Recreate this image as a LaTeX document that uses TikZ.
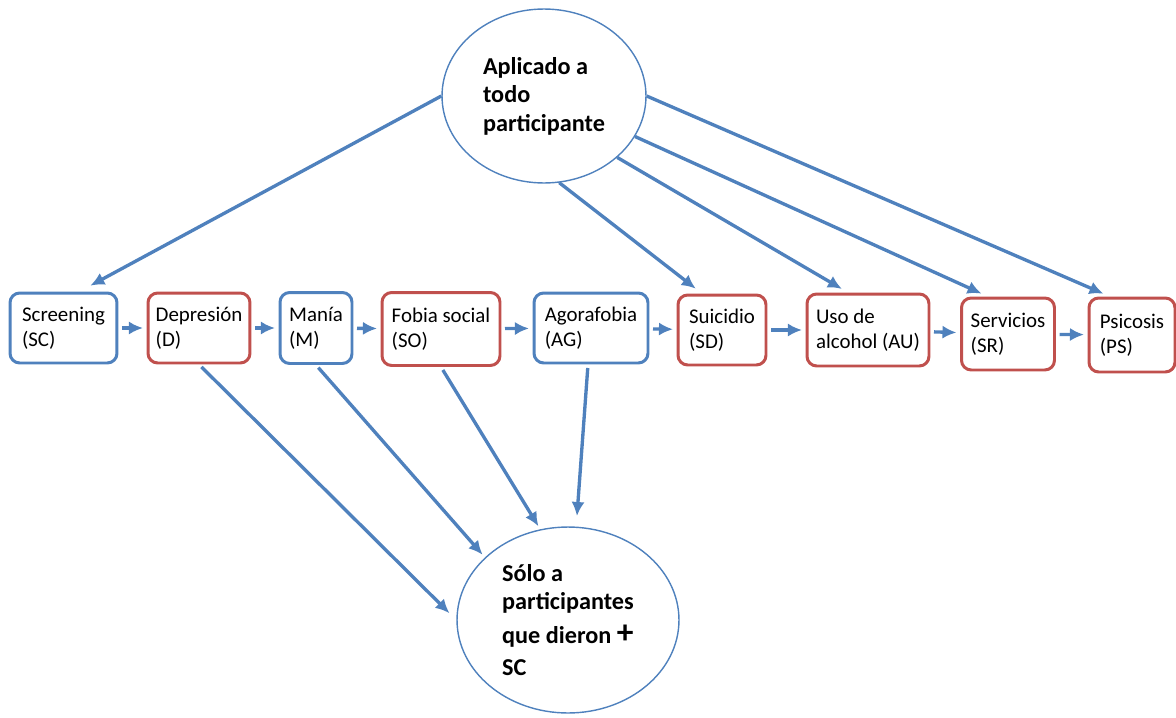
\documentclass[tikz,border=0pt]{standalone}
\usepackage{fontspec}
\setmainfont{Carlito}
\usetikzlibrary{shapes.geometric,arrows.meta}
\definecolor{azul}{RGB}{79,129,189}
\definecolor{rojo}{RGB}{192,80,77}
\tikzset{
	caja/.style={rounded corners=5.5pt, line width=1.7pt, fill=white, align=left, inner sep=0pt, font=\fontsize{11.9}{14.2}\selectfont},
	cajaazul/.style={caja, draw=azul},
	cajaroja/.style={caja, draw=rojo},
	globo/.style={ellipse, draw=azul, line width=0.8pt, fill=white, align=left, inner sep=0pt, font=\bfseries\fontsize{13.8}{16.2}\selectfont},
	flecha/.style={-{Latex[length=8pt,width=7.5pt]}, draw=azul, line width=1.9pt, shorten >=2pt, shorten <=2pt}
}
\begin{document}
\begin{tikzpicture}[x=0.02cm, y=-0.02cm]
		\useasboundingbox (0,0) rectangle (1176,717);

		% Ellipses
		\node[globo, minimum width=4.08cm, minimum height=3.48cm] (todos) at (544,96) {Aplicado a\\todo\\participante};
		\node[globo, minimum width=4.44cm, minimum height=3.72cm] (solo) at (568,620) {S\'olo a\\participantes\\[3pt]que dieron {\fontsize{19}{17}\selectfont +}\\[2pt]SC};

		% Modules
		\node[cajaazul, minimum width=2.14cm, minimum height=1.40cm] (sc) at (63.5,328) {Screening\\(SC)};
		\node[cajaroja, minimum width=2.04cm, minimum height=1.40cm] (d) at (199,328) {Depresi\'on\\(D)};
		\node[cajaazul, minimum width=1.44cm, minimum height=1.42cm] (m) at (316,328) {Man\'ia\\(M)};
		\node[cajaroja, minimum width=2.36cm, minimum height=1.46cm] (so) at (441,329) {Fobia social\\(SO)};
		\node[cajaazul, minimum width=2.28cm, minimum height=1.40cm] (ag) at (591,328) {Agorafobia\\(AG)};
		\node[cajaroja, minimum width=1.76cm, minimum height=1.40cm] (sd) at (722,330) {Suicidio\\(SD)};
		\node[cajaroja, minimum width=2.44cm, minimum height=1.44cm] (au) at (868,330) {Uso de\\alcohol (AU)};
		\node[cajaroja, minimum width=1.86cm, minimum height=1.44cm] (sr) at (1008,334) {Servicios\\(SR)};
		\node[cajaroja, minimum width=1.72cm, minimum height=1.48cm] (ps) at (1132,335) {Psicosis\\(PS)};

		% Order of the modules
		\foreach \a/\b in {sc/d, d/m, m/so, so/ag, ag/sd, sd/au, au/sr, sr/ps}
		\draw[flecha] (\a) -- (\b);

		% Applied to everyone
		\draw[flecha, shorten <=0pt, shorten >=7pt] (todos.west) -- ([xshift=0.32cm]sc.north);
		\draw[flecha, shorten <=0pt, shorten >=4.5pt] (todos.-80) -- ([xshift=-0.4cm]sd.north);
		\draw[flecha, shorten <=0pt, shorten >=4pt] (todos.-40) -- ([xshift=-0.4cm]au.north);
		\draw[flecha, shorten <=0pt, shorten >=4pt] (todos.-24) -- ([xshift=-0.4cm]sr.north);
		\draw[flecha, shorten <=0pt, shorten >=4pt] (todos.east) -- ([xshift=-0.44cm]ps.north);

		% Only after a positive screening
		\draw[flecha, shorten >=5.5pt] (d.south) -- (solo.west);
		\draw[flecha] (m.south) -- (solo.143);
		\draw[flecha] (so.south) -- (solo.107);
		\draw[flecha, shorten >=6pt] ([xshift=-0.06cm]ag.south) -- (solo.85);
\end{tikzpicture}
\end{document}
